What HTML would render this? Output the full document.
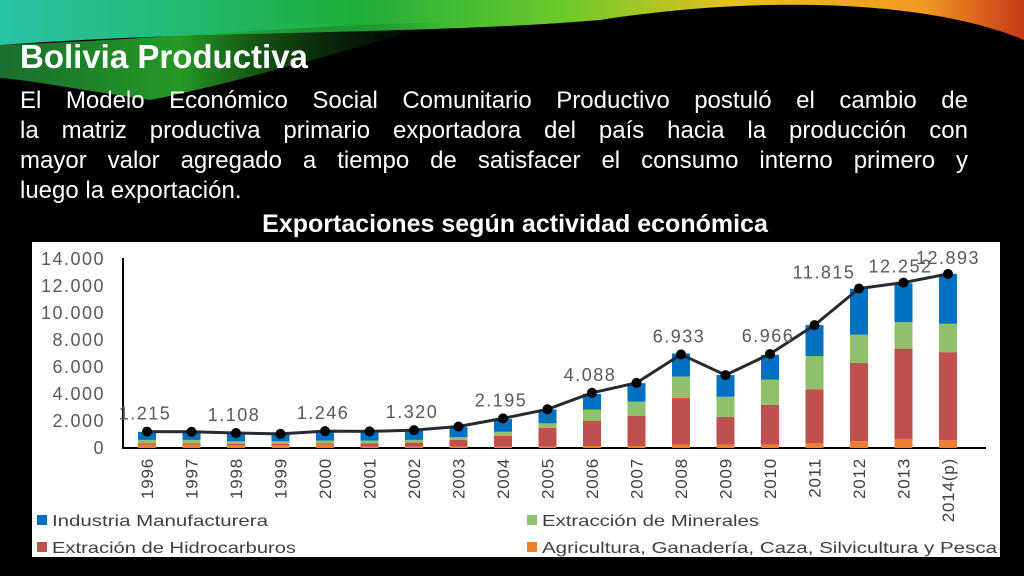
<!DOCTYPE html>
<html><head><meta charset="utf-8"><style>
body{margin:0;width:1024px;height:576px;background:#000;overflow:hidden;position:relative;font-family:"Liberation Sans",sans-serif}
.ln{position:absolute;left:20px;width:948px;color:#fff;font-size:24px;line-height:30px;text-align:justify;text-align-last:justify;white-space:nowrap}
</style></head><body>
<svg width="1024" height="576" style="position:absolute;left:0;top:0">
<defs>
<linearGradient id="sw" x1="0" y1="0" x2="1" y2="0">
<stop offset="0" stop-color="#27c4a8"/><stop offset="0.35" stop-color="#1fae3a"/><stop offset="0.55" stop-color="#6cc92a"/><stop offset="0.72" stop-color="#e8c020"/><stop offset="0.9" stop-color="#f09a20"/><stop offset="1" stop-color="#c83a1a"/></linearGradient>
<linearGradient id="sw2" x1="0" y1="0" x2="1" y2="0">
<stop offset="0" stop-color="#1e8a3a"/><stop offset="0.4" stop-color="#2fbf2f"/><stop offset="1" stop-color="#0a2a0a" stop-opacity="0"/></linearGradient>
</defs>
<path d="M0 0 H1024 V40 C930 0 760 -5 600 20 C420 35 200 30 0 45 Z" fill="url(#sw)"/>
<path d="M0 45 C150 40 300 25 450 22 C380 40 250 80 150 100 C80 90 30 80 0 78 Z" fill="url(#sw2)" opacity="0.8"/>
</svg>
<div style="position:absolute;left:20px;top:38px;color:#fff;font-size:33px;font-weight:bold">Bolivia Productiva</div>
<div>
<div class="ln" style="top:86px">El Modelo Económico Social Comunitario Productivo postuló el cambio de</div>
<div class="ln" style="top:116px">la matriz productiva primario exportadora del país hacia la producción con</div>
<div class="ln" style="top:146px">mayor valor agregado a tiempo de satisfacer el consumo interno primero y</div>
<div class="ln" style="top:176px;text-align-last:left">luego la exportación.</div>
</div>
<div style="position:absolute;left:0;width:1030px;top:210px;text-align:center;color:#fff;font-size:25px;font-weight:bold">Exportaciones según actividad económica</div>
<svg id="chart" width="968" height="315" style="position:absolute;left:32px;top:242px;background:#fff"></svg>
<script>
const years=["1996","1997","1998","1999","2000","2001","2002","2003","2004","2005","2006","2007","2008","2009","2010","2011","2012","2013","2014(p)"];
const agri=[250,250,200,200,250,100,100,100,100,100,150,150,250,250,250,370,500,670,570];
const hydro=[100,100,100,100,100,250,300,500,800,1380,1850,2220,3450,2050,2950,3980,5800,6690,6530];
const minerals=[250,250,200,200,200,200,200,200,300,350,840,1060,1600,1500,1860,2450,2100,1970,2100];
const manuf=[600,580,550,500,650,650,700,750,950,1030,1160,1370,1700,1600,1840,2300,3400,2870,3700];
const totals=[1215,1200,1108,1050,1246,1230,1320,1590,2195,2867,4088,4822,6933,5400,6966,9100,11815,12252,12893];
const labelIdx=[0,2,4,6,8,10,12,14,16,17,18];
const yTicks=[0,2000,4000,6000,8000,10000,12000,14000];
const NS="http://www.w3.org/2000/svg";
const svg=document.getElementById('chart');
const ox=32,oy=242;
function yS(v){return 448-oy-v*13.5/1000;}
function xS(i){return 147-ox+i*44.5;}
function mk(t,a){const e=document.createElementNS(NS,t);for(const k in a)e.setAttribute(k,a[k]);svg.appendChild(e);return e;}
function fmt(v){return v===0?"0":(v/1000).toFixed(3);}
yTicks.forEach(v=>{const t=mk('text',{x:73,y:yS(v)+6,'text-anchor':'end','font-size':18,fill:'#595959','letter-spacing':'1.5'});t.textContent=fmt(v);

});
const ax=mk('path',{d:`M${123-ox} ${258-oy} V${yS(0)} H${968-ox+18}`,stroke:'#000','stroke-width':2,fill:'none'});


const series=[[agri,'#ed7d31','agri'],[hydro,'#c0504d','hydro'],[minerals,'#8fc06a','minerals'],[manuf,'#0070c0','manuf']];
years.forEach((y,i)=>{let base=0;series.forEach(s=>{const v=s[0][i];const r=mk('rect',{x:xS(i)-9,y:yS(base+v),width:18,height:yS(base)-yS(base+v),fill:s[1]});

base+=v;});
const t=mk('text',{transform:`translate(${xS(i)+6},${yS(0)+10}) rotate(-90)`,'text-anchor':'end','font-size':17,fill:'#404040','letter-spacing':'0.8'});t.textContent=y;

});
const ln=mk('polyline',{points:totals.map((v,i)=>xS(i)+','+yS(v)).join(' '),stroke:'#262a33','stroke-width':3,fill:'none'});


totals.forEach((v,i)=>{const c=mk('circle',{cx:xS(i),cy:yS(v),r:5,fill:'#000'});

});
labelIdx.forEach(i=>{const t=mk('text',{x:xS(i)+(i===16?-35:(i===17?-3:(i===18?0:-2))),y:yS(totals[i])-(i>=16?10:12),'text-anchor':'middle','font-size':18,fill:'#595959','letter-spacing':'1.5'});t.textContent=fmt(totals[i]);

});
const leg=[['Industria Manufacturera','#0070c0',5,284,216],['Extracción de Minerales','#8fc06a',495,284,217],['Extración de Hidrocarburos','#c0504d',5,311,244],['Agricultura, Ganadería, Caza, Silvicultura y Pesca','#ed7d31',495,311,455]];
leg.forEach(l=>{const r=mk('rect',{x:l[2],y:l[3]-11,width:10,height:10,fill:l[1]});


const t=mk('text',{x:l[2]+15,y:l[3],'font-size':16,fill:'#404040',textLength:l[4],lengthAdjust:'spacingAndGlyphs'});t.textContent=l[0];

});
</script>
</body></html>
